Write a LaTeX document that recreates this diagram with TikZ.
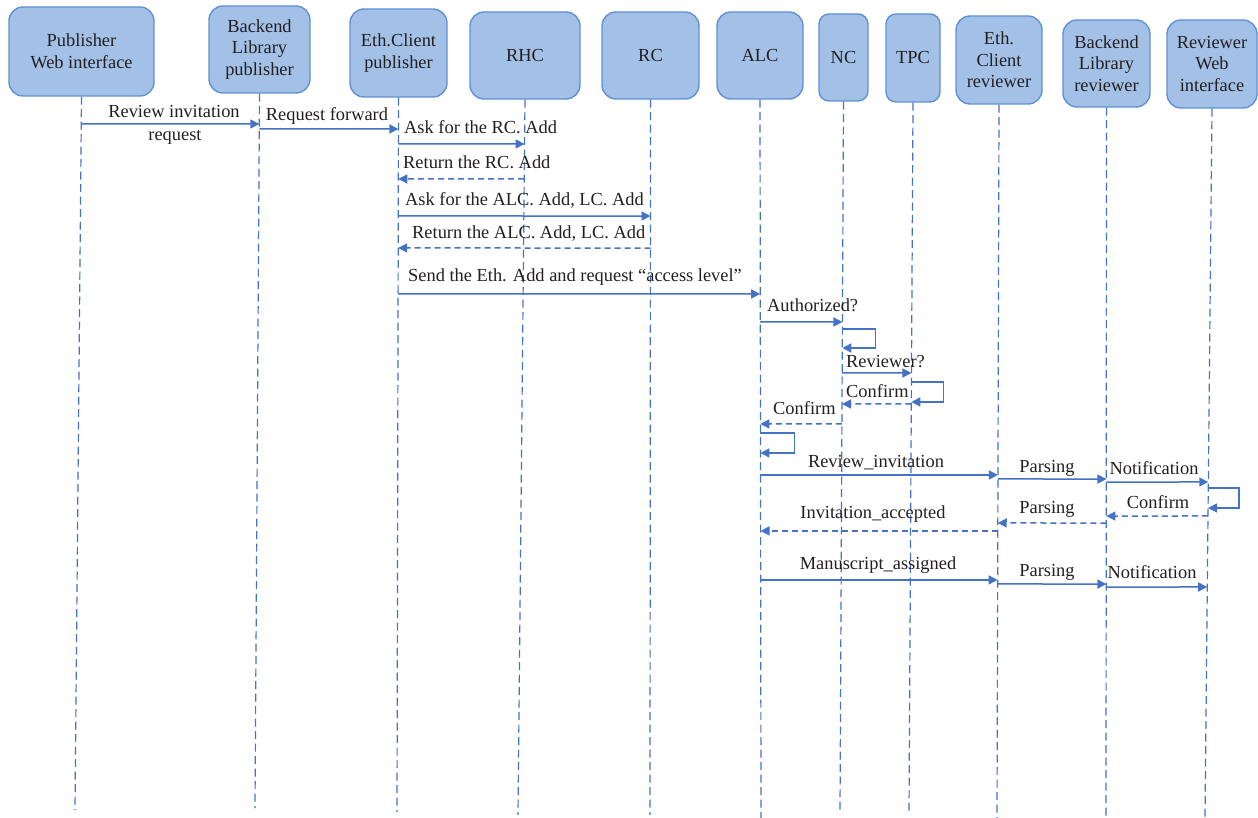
\documentclass[tikz,border=0pt]{standalone}
\usepackage{fontspec}
\setmainfont{Liberation Serif}
\usetikzlibrary{calc,arrows.meta}
\definecolor{boxfill}{RGB}{163,193,230}
\definecolor{boxline}{RGB}{95,145,212}
\definecolor{arr}{RGB}{68,114,196}
\definecolor{txt}{RGB}{35,31,32}
\newcommand\pin[3]{\coordinate (#3) at (intersection of #1.south--#1-e and 0,#2--10,#2);}
\newcommand\msg[5]{\pin{#2}{#4}{#5a}\pin{#3}{#4}{#5b}\draw[#1] (#5a) -- (#5b);}
\newcommand\selfloop[5]{\pin{#1}{#2}{#5a}\pin{#1}{#3}{#5b}\draw[sync] (#5a) -- ++(#4,0) |- (#5b);}
\begin{document}
\begin{tikzpicture}[x=1pt,y=-1pt,
  every node/.style={font=\fontsize{18.4}{21.5}\selectfont,text=txt},
  actor/.style={draw=boxline,fill=boxfill,line width=1.4pt,rounded corners=14pt,align=center,inner sep=0pt},
  life/.style={draw=arr,line width=1.2pt,dash pattern=on 8pt off 4.5pt},
  sync/.style={draw=arr,line width=1.5pt,-{Triangle[length=9pt,width=9pt]}},
  reply/.style={sync,dash pattern=on 6pt off 4pt},
  lbl/.style={inner sep=0pt,anchor=base}]
\useasboundingbox (0,0) rectangle (1258,818);
% actors
\node[actor,minimum width=145pt,minimum height=89pt] (pwi) at (81.5,51.5) {Publisher\\Web interface};
\node[actor,minimum width=101pt,minimum height=87pt] (blp) at (259.5,49.5) {Backend\\Library\\publisher};
\node[actor,minimum width=97pt,minimum height=88pt] (ecp) at (398.5,53) {Eth.Client\\publisher};
\node[actor,minimum width=110pt,minimum height=87pt] (rhc) at (525,55.5) {RHC};
\node[actor,minimum width=97pt,minimum height=87pt] (rc) at (650.5,55.5) {RC};
\node[actor,minimum width=86pt,minimum height=87pt] (alc) at (760,55.5) {ALC};
\node[actor,minimum width=49pt,minimum height=87pt,rounded corners=10pt] (nc) at (843.5,57.5) {NC};
\node[actor,minimum width=54pt,minimum height=88pt,rounded corners=10pt] (tpc) at (913,58) {TPC};
\node[actor,minimum width=86pt,minimum height=88pt] (ecr) at (999,60) {Eth.\\Client\\reviewer};
\node[actor,minimum width=87pt,minimum height=87pt] (blr) at (1106.5,63.5) {Backend\\Library\\reviewer};
\node[actor,minimum width=90pt,minimum height=88pt] (rwi) at (1212,64) {Reviewer\\Web\\interface};
% lifeline ends
\coordinate (pwi-e) at (75,810);
\coordinate (blp-e) at (255,808);
\coordinate (ecp-e) at (397,812);
\coordinate (rhc-e) at (518,815);
\coordinate (rc-e) at (650,815);
\coordinate (alc-e) at (761,818);
\coordinate (nc-e) at (840,811);
\coordinate (tpc-e) at (909,812);
\coordinate (ecr-e) at (997,818);
\coordinate (blr-e) at (1106,818);
\coordinate (rwi-e) at (1205,818);
\foreach \n in {pwi,blp,ecp,rhc,rc,alc,nc,tpc,ecr,blr,rwi}
  \draw[life] (\n.south) -- (\n-e);
% messages
\msg{sync}{pwi}{blp}{124}{m1}
\msg{sync}{blp}{ecp}{129}{m2}
\msg{sync}{ecp}{rhc}{144}{m3}
\msg{reply}{rhc}{ecp}{179}{m4}
\msg{sync}{ecp}{rc}{216}{m5}
\msg{reply}{rc}{ecp}{248}{m6}
\msg{sync}{ecp}{alc}{294}{m7}
\msg{sync}{alc}{nc}{322}{m8}
\selfloop{nc}{329}{348}{33}{l1}
\msg{sync}{nc}{tpc}{373}{m10}
\selfloop{tpc}{382}{402}{32}{l2}
\msg{reply}{tpc}{nc}{404}{m12}
\msg{reply}{nc}{alc}{424}{m13}
\selfloop{alc}{433}{453}{34}{l3}
\msg{sync}{alc}{ecr}{475}{m15}
\msg{sync}{ecr}{blr}{479}{m16}
\msg{sync}{blr}{rwi}{482}{m17}
\selfloop{rwi}{488}{508}{31}{l4}
\msg{reply}{rwi}{blr}{516}{m19}
\msg{reply}{blr}{ecr}{523}{m20}
\msg{reply}{ecr}{alc}{531}{m21}
\msg{sync}{alc}{ecr}{580}{m22}
\msg{sync}{ecr}{blr}{584}{m23}
\msg{sync}{blr}{rwi}{587}{m24}
% labels
\node[lbl] (t1a) at (174,118) {Review invitation};
\node[lbl] (t1b) at (175,141) {request};
\node[lbl] (t2) at (327,121) {Request forward};
\node[lbl,anchor=base west] (t3) at (404,134) {Ask for the RC. Add};
\node[lbl,anchor=base west] (t4) at (403,169) {Return the RC. Add};
\node[lbl,anchor=base west] (t5) at (405,206) {Ask for the ALC. Add, LC. Add};
\node[lbl,anchor=base west] (t6) at (412,239) {Return the ALC. Add, LC. Add};
\node[lbl,anchor=base west] (t7) at (408,282) {Send the Eth. Add and request “access level”};
\node[lbl,anchor=base west] (t8) at (767,312) {Authorized?};
\node[lbl,anchor=base west] (t10) at (846,367) {Reviewer?};
\node[lbl,anchor=base west] (t12) at (846,397) {Confirm};
\node[lbl,anchor=base west] (t13) at (773,414) {Confirm};
\node[lbl] (t15) at (876,467) {Review\_invitation};
\node[lbl] (t16) at (1047,472) {Parsing};
\node[lbl] (t17) at (1154,474) {Notification};
\node[lbl] (t19) at (1158,508) {Confirm};
\node[lbl] (t20) at (1047,513) {Parsing};
\node[lbl] (t21) at (873,518) {Invitation\_accepted};
\node[lbl] (t22) at (878,569) {Manuscript\_assigned};
\node[lbl] (t23) at (1047,576) {Parsing};
\node[lbl] (t24) at (1152,578) {Notification};
\end{tikzpicture}
\end{document}
